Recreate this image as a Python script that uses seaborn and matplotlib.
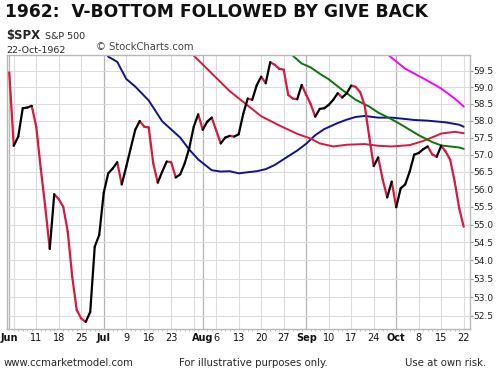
import pandas as pd
import matplotlib
matplotlib.use("Agg")
import matplotlib.pyplot as plt
from matplotlib.ticker import FixedLocator, FixedFormatter, NullLocator, NullFormatter
import seaborn as sns

# ---------------------------------------------------------------
# data - one point per weekday, 1 Jun .. 22 Oct 1962
# ---------------------------------------------------------------
dates = pd.bdate_range("1962-06-01", "1962-10-22")

close = [
    59.45, 57.26, 57.53, 58.37, 58.39, 58.44, 57.82, 56.60, 55.50, 54.32,
    55.86, 55.72, 55.50, 54.80, 53.55, 52.65, 52.42, 52.33, 52.60, 54.38,
    54.71, 55.90, 56.46, 56.60, 56.78, 56.14, 56.65, 57.19, 57.73, 57.99,
    57.82, 57.80, 56.75, 56.19, 56.51, 56.80, 56.78, 56.34, 56.43, 56.75,
    57.19, 57.82, 58.19, 57.73, 57.97, 58.09, 57.71, 57.33, 57.50, 57.55,
    57.53, 57.60, 58.20, 58.66, 58.62, 59.06, 59.32, 59.12, 59.76, 59.68,
    59.56, 59.53, 58.77, 58.66, 58.64, 59.07, 58.77, 58.49, 58.12, 58.35,
    58.37, 58.47, 58.62, 58.82, 58.69, 58.82, 59.05, 59.01, 58.85, 58.45,
    57.53, 56.67, 56.92, 56.28, 55.77, 56.22, 55.49, 56.03, 56.14, 56.51,
    57.00, 57.05, 57.16, 57.24, 57.01, 56.94, 57.26, 57.09, 56.85, 56.22,
    55.46, 54.94,
]

# moving averages, read at a few days each (day index, value)
blue_day = [21, 22, 24, 26, 28, 31, 34, 38, 40, 42, 45, 47, 49, 51, 53, 55, 57, 59, 61,
            64, 66, 68, 70, 73, 75, 77, 79, 82, 85, 88, 90, 93, 97, 100, 101]
blue_val = [60.20, 59.93, 59.77, 59.25, 59.02, 58.60, 57.98, 57.50, 57.15, 56.86, 56.55,
            56.51, 56.52, 56.46, 56.49, 56.52, 56.58, 56.70, 56.87, 57.12, 57.32, 57.57,
            57.75, 57.93, 58.03, 58.11, 58.14, 58.09, 58.09, 58.05, 58.02, 58.00, 57.95,
            57.88, 57.82]

red_day = [40, 41, 45, 49, 52, 56, 60, 64, 67, 69, 72, 75, 79, 82, 85, 89, 92, 95, 96, 99, 101]
red_val = [60.20, 59.96, 59.42, 58.88, 58.56, 58.13, 57.86, 57.61, 57.47, 57.33, 57.24,
           57.29, 57.31, 57.26, 57.24, 57.28, 57.40, 57.56, 57.62, 57.67, 57.63]

green_day = [62, 65, 67, 69, 71, 74, 77, 80, 82, 85, 87, 89, 91, 94, 96, 98, 100, 101]
green_val = [60.08, 59.72, 59.60, 59.41, 59.24, 58.92, 58.62, 58.42, 58.24, 58.04, 57.89,
             57.73, 57.57, 57.37, 57.27, 57.24, 57.21, 57.17]

magenta_day = [83, 88, 92, 96, 99, 101]
magenta_val = [60.12, 59.56, 59.27, 58.96, 58.66, 58.42]

y_ticks = [52.5, 53.0, 53.5, 54.0, 54.5, 55.0, 55.5, 56.0, 56.5, 57.0, 57.5, 58.0, 58.5, 59.0, 59.5]

tick_dates = ["1962-06-01", "1962-06-11", "1962-06-18", "1962-06-25", "1962-07-02",
              "1962-07-09", "1962-07-16", "1962-07-23", "1962-08-01", "1962-08-06",
              "1962-08-13", "1962-08-20", "1962-08-27", "1962-09-03", "1962-09-10",
              "1962-09-17", "1962-09-24", "1962-10-01", "1962-10-08", "1962-10-15",
              "1962-10-22"]
tick_labels = ["Jun", "11", "18", "25", "Jul", "9", "16", "23", "Aug", "6", "13", "20",
               "27", "Sep", "10", "17", "24", "Oct", "8", "15", "22"]
month_labels = ["Jun", "Jul", "Aug", "Sep", "Oct"]

RED = "#d81840"
BLUE = "#12128c"
GREEN = "#0c740c"
MAGENTA = "#ff00ff"

# ---------------------------------------------------------------
# figure
# ---------------------------------------------------------------
sns.set_style("white")
plt.rcParams["font.family"] = ["DejaVu Sans"]

W, H = 497, 373
fig = plt.figure(figsize=(W / 100, H / 100), dpi=100)
ax = fig.add_axes([7 / W, 1 - 329 / H, 463 / W, 274 / H])

# grid: mondays light, month starts darker
days = list(range(len(dates)))
for i, d in enumerate(dates):
    month_start = i == 0 or d.month != dates[i - 1].month
    if month_start:
        ax.axvline(i, color="#b4b4b4", lw=0.9, zorder=0)
    elif d.weekday() == 0:
        ax.axvline(i, color="#dcdcdc", lw=0.8, zorder=0)
for v in y_ticks:
    ax.axhline(v, color="#dcdcdc", lw=0.8, zorder=0)

# moving averages
for xs, ys, col in [(blue_day, blue_val, BLUE), (red_day, red_val, RED),
                    (green_day, green_val, GREEN), (magenta_day, magenta_val, MAGENTA)]:
    sns.lineplot(x=xs, y=ys, color=col, lw=1.4, ax=ax, zorder=2)

# price: black on up days, red on down days
rows = []
for k in range(1, len(close)):
    direction = "down" if close[k] < close[k - 1] else "up"
    rows.append((k, k - 1, close[k - 1], direction))
    rows.append((k, k, close[k], direction))
seg = pd.DataFrame(rows, columns=["seg", "day", "close", "dir"])
sns.lineplot(data=seg, x="day", y="close", units="seg", hue="dir", estimator=None,
             palette={"up": "black", "down": RED}, lw=1.6, legend=False, ax=ax,
             solid_capstyle="round", zorder=3)

# axes
ax.set_yscale("log")
ax.set_ylim(52.14, 59.98)
ax.set_xlim(-0.5, 102.4)
ax.yaxis.tick_right()
ax.yaxis.set_major_locator(FixedLocator(y_ticks))
ax.yaxis.set_major_formatter(FixedFormatter([f"{v:.1f}" for v in y_ticks]))
ax.yaxis.set_minor_locator(NullLocator())
ax.yaxis.set_minor_formatter(NullFormatter())
ax.tick_params(axis="y", which="major", right=True, left=False, length=1.8, width=0.8,
               color="#999999", pad=0.8, labelsize=6.5, labelcolor="#222222")

tick_pos = [dates.get_loc(pd.Timestamp(t)) for t in tick_dates]
ax.set_xticks(tick_pos)
ax.set_xticklabels(tick_labels)
ax.set_xticks(days, minor=True)
ax.tick_params(axis="x", which="major", length=0, pad=3.0, labelsize=7, labelcolor="#111111")
ax.tick_params(axis="x", which="minor", bottom=True, length=1.3, width=0.5, color="#a8a8a8")
for lab in ax.get_xticklabels():
    if lab.get_text() in month_labels:
        lab.set_fontweight("bold")
ax.set_xlabel("")
ax.set_ylabel("")
for sp in ax.spines.values():
    sp.set_color("#b8b8b8")
    sp.set_linewidth(1.0)

# texts
fig.text(5 / W, 1 - 17.3 / H, "1962:  V-BOTTOM FOLLOWED BY GIVE BACK", fontsize=12.3,
         fontweight="bold", va="baseline", color="#111111")
fig.text(6.5 / W, 1 - 39.5 / H, r"\$SPX", fontsize=8.4, fontweight="bold", va="baseline")
fig.text(45 / W, 1 - 39 / H, "S&P 500", fontsize=6.8, va="baseline")
fig.text(6.7 / W, 1 - 53.3 / H, "22-Oct-1962", fontsize=6.8, va="baseline")
fig.text(96 / W, 1 - 49.5 / H, "\u00a9 StockCharts.com", fontsize=7.2, va="baseline",
         color="#444444")
fig.text(3.3 / W, 1 - 366.5 / H, "www.ccmarketmodel.com", fontsize=7.3, va="baseline")
fig.text(179.3 / W, 1 - 366.5 / H, "For illustrative purposes only.", fontsize=7.3,
         va="baseline")
fig.text(405 / W, 1 - 366.5 / H, "Use at own risk.", fontsize=7.3, va="baseline")

fig.savefig("out.png", dpi=100)
plt.close(fig)
